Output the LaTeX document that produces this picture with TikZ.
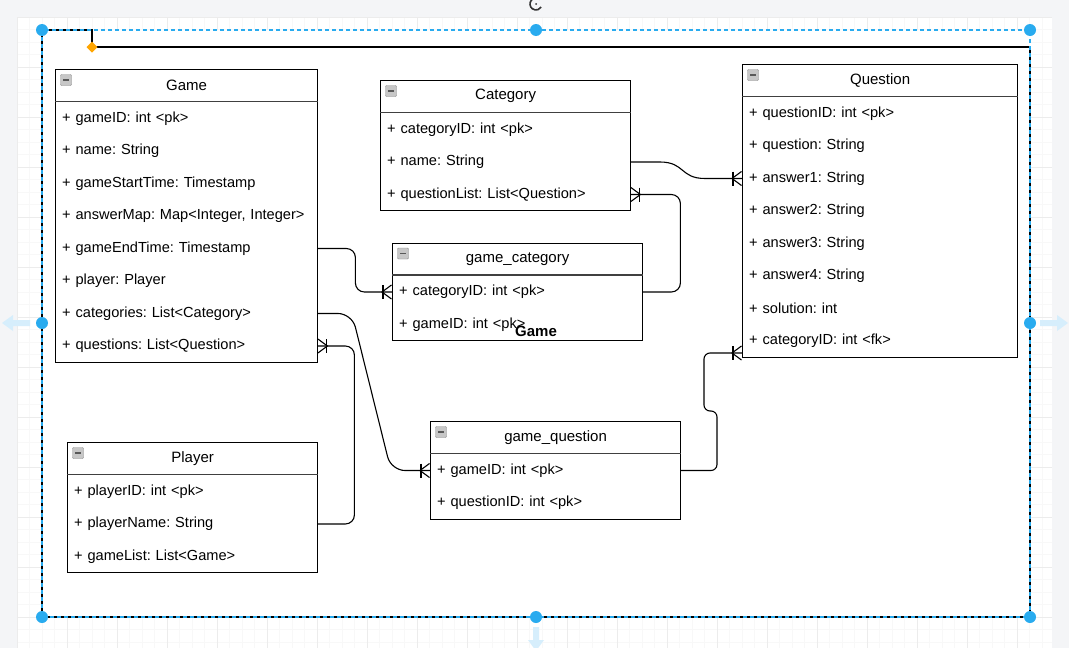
\documentclass[tikz,border=0pt]{standalone}
\usepackage{fontspec}
\setmainfont{Liberation Sans}
\usetikzlibrary{calc}
\definecolor{handlec}{RGB}{41,171,239}
\definecolor{outbg}{RGB}{244,245,247}
\definecolor{gridmin}{RGB}{248,248,248}
\definecolor{gridmaj}{RGB}{236,236,236}
\definecolor{arrowc}{RGB}{214,238,252}
\definecolor{diamondc}{RGB}{255,165,0}
\newcommand\crowend[2]{%
  \draw[conn] ($(#1)+({-9*(#2)},-7)$) -- ($(#1)+({-9*(#2)},7)$);
  \draw[conn] ($(#1)+({-0.5*(#2)},-7)$) -- ($(#1)+({-10*(#2)},0)$) -- ($(#1)+({-0.5*(#2)},7)$);}
\frenchspacing
\begin{document}
\begin{tikzpicture}[x=1pt,y=-1pt,
  tbl/.style={draw=black, line width=1.2pt, fill=white, inner sep=0pt, anchor=north west},
  hdr/.style={draw=black!75, line width=1.6pt},
  ttl/.style={font=\fontsize{15}{18}\selectfont, inner sep=0pt},
  row/.style={text width=#1, align=left, inner xsep=7pt, inner ysep=0pt, anchor=west,
              font=\frenchspacing\fontsize{14.6}{18}\selectfont, minimum height=30pt},
  icon/.style={draw=black!45, fill=black!22, minimum size=11pt, inner sep=0pt, rounded corners=1pt,
     path picture={\draw[black!65, line width=1.4pt] ($(path picture bounding box.west)+(2.5,0)$) -- ($(path picture bounding box.east)+(-2.5,0)$);}},
  conn/.style={draw=black, line width=1.1pt},
  handle/.style={fill=handlec}
]
\useasboundingbox (0,0) rectangle (1069,648);
\fill[outbg] (0,0) rectangle (1069,648);
\fill[white] (17,17) rectangle (1052,648);
% grid
\foreach \x in {29.5,42,...,1052} \draw[gridmin, line width=0.6pt] (\x,17) -- (\x,648);
\foreach \y in {29.5,42,...,648} \draw[gridmin, line width=0.6pt] (17,\y) -- (1052,\y);
\foreach \x in {17,67,...,1052} \draw[gridmaj, line width=0.7pt] (\x,17) -- (\x,648);
\foreach \y in {17,67,...,648} \draw[gridmaj, line width=0.7pt] (17,\y) -- (1052,\y);
% container
\fill[white] (42,30) rectangle (1030,617);
\draw[black, line width=1.3pt] (42,617) -- (42,30) -- (92,30) -- (92,47) -- (1030,47) -- (1030,617) -- cycle;
\draw[handlec, line width=1.1pt, dash pattern=on 4pt off 3pt] (42,30) rectangle (1030,617);

% ---------- Game ----------
\node[tbl, minimum width=262pt, minimum height=292.5pt] (game) at (55,69) {};
\draw[hdr] ($(game.north west)+(0,32.5)$) -- ($(game.north east)+(0,32.5)$);
\node[ttl] (gamet) at ($(game.north)+(0,16.25)$) {Game};
\node[icon] (gamei) at ($(game.north west)+(11,11)$) {};
\node[row=248pt] (g1) at (55,118.5) {+ gameID: int <pk>};
\node[row=248pt] (g2) at (55,151) {+ name: String};
\node[row=248pt] (g3) at (55,183.5) {+ gameStartTime: Timestamp};
\node[row=248pt] (g4) at (55,216) {+ answerMap: Map<Integer, Integer>};
\node[row=248pt] (g5) at (55,248.5) {+ gameEndTime: Timestamp};
\node[row=248pt] (g6) at (55,281) {+ player: Player};
\node[row=248pt] (g7) at (55,313.5) {+ categories: List<Category>};
\node[row=248pt] (g8) at (55,346) {+ questions: List<Question>};

% ---------- Category ----------
\node[tbl, minimum width=250pt, minimum height=130pt] (cat) at (380,80) {};
\draw[hdr] ($(cat.north west)+(0,32.5)$) -- ($(cat.north east)+(0,32.5)$);
\node[ttl] (catt) at ($(cat.north)+(0,16.25)$) {Category};
\node[icon] (cati) at ($(cat.north west)+(11,11)$) {};
\node[row=236pt] (c1) at (380,129.5) {+ categoryID: int <pk>};
\node[row=236pt] (c2) at (380,162) {+ name: String};
\node[row=236pt] (c3) at (380,194.5) {+ questionList: List<Question>};

% ---------- Question ----------
\node[tbl, minimum width=275pt, minimum height=292.5pt] (quest) at (742,64) {};
\draw[hdr] ($(quest.north west)+(0,32.5)$) -- ($(quest.north east)+(0,32.5)$);
\node[ttl] (questt) at ($(quest.north)+(0,16.25)$) {Question};
\node[icon] (questi) at ($(quest.north west)+(11,11)$) {};
\node[row=261pt] (q1) at (742,113.5) {+ questionID: int <pk>};
\node[row=261pt] (q2) at (742,146) {+ question: String};
\node[row=261pt] (q3) at (742,178.5) {+ answer1: String};
\node[row=261pt] (q4) at (742,211) {+ answer2: String};
\node[row=261pt] (q5) at (742,243.5) {+ answer3: String};
\node[row=261pt] (q6) at (742,276) {+ answer4: String};
\node[row=261pt] (q7) at (742,308.5) {+ solution: int};
\node[row=261pt] (q8) at (742,341) {+ categoryID: int <fk>};

% ---------- game_category ----------
\node[tbl, minimum width=250pt, minimum height=97.5pt] (gcat) at (392,242.5) {};
\draw[hdr] ($(gcat.north west)+(0,32.5)$) -- ($(gcat.north east)+(0,32.5)$);
\node[ttl] (gcatt) at ($(gcat.north)+(0,16.25)$) {game\_category};
\node[icon] (gcati) at ($(gcat.north west)+(11,11)$) {};
\node[row=236pt] (gc1) at (392,292) {+ categoryID: int <pk>};
\node[row=236pt] (gc2) at (392,324.5) {+ gameID: int <pk>};

% ---------- game_question ----------
\node[tbl, minimum width=250pt, minimum height=97.5pt] (gq) at (430,421) {};
\draw[hdr] ($(gq.north west)+(0,32.5)$) -- ($(gq.north east)+(0,32.5)$);
\node[ttl] (gqt) at ($(gq.north)+(0,16.25)$) {game\_question};
\node[icon] (gqi) at ($(gq.north west)+(11,11)$) {};
\node[row=236pt] (gq1) at (430,470.5) {+ gameID: int <pk>};
\node[row=236pt] (gq2) at (430,503) {+ questionID: int <pk>};

% ---------- Player ----------
\node[tbl, minimum width=250pt, minimum height=130pt] (pl) at (67,442) {};
\draw[hdr] ($(pl.north west)+(0,32.5)$) -- ($(pl.north east)+(0,32.5)$);
\node[ttl] (plt) at ($(pl.north)+(0,16.25)$) {Player};
\node[icon] (pli) at ($(pl.north west)+(11,11)$) {};
\node[row=236pt] (p1) at (67,491.5) {+ playerID: int <pk>};
\node[row=236pt] (p2) at (67,524) {+ playerName: String};
\node[row=236pt] (p3) at (67,556.5) {+ gameList: List<Game>};

% ---------- connectors ----------
\draw[conn, rounded corners=9pt] (g5.east) -- ++(38,0) |- (gc1.west);
\crowend{gc1.west}{1}
\coordinate (c2a) at (352,313.5);
\coordinate (c2b) at (391,470.5);
\draw[conn, rounded corners=14pt] (g7.east) -- (c2a) -- (c2b) -- (gq1.west);
\crowend{gq1.west}{1}
\draw[conn, rounded corners=9pt] (p2.east) -- ++(37,0) |- (g8.east);
\crowend{g8.east}{-1}
\draw[conn, rounded corners=9pt] (gc1.east) -- ++(38,0) |- (c3.east);
\crowend{c3.east}{-1}
\draw[conn] (c2.east) -- (660,162) .. controls (685,162) and (680,178.5) .. (705,178.5) -- (q3.west);
\crowend{q3.west}{1}
\coordinate (qend) at (742,353);
\draw[conn, rounded corners=6pt] (gq1.east) -- (717,470.5) -- (717,411) -- (704,411) -- (704,353) -- (qend);
\crowend{qend}{1}

% container label (drawn on top)
\node[font=\bfseries\fontsize{15}{18}\selectfont, inner sep=0pt] (contlabel) at (536,331) {Game};

% ---------- selection handles ----------
\foreach \p in {(42,30),(536,30),(1030,30),(42,323),(1030,323),(42,617),(536,617),(1030,617)}
  \fill[handle] \p circle (6pt);
\fill[diamondc] (92,41.5) -- (97.5,47) -- (92,52.5) -- (86.5,47) -- cycle;
% rotation handle
\draw[black!80, line width=1.6pt] ([shift={(50:6pt)}]536,4) arc[start angle=50, end angle=330, radius=6pt];
\fill[black!80] (536,4) circle (1pt);
% direction arrows
\fill[arrowc] (30,320) -- (13,320) -- (13,315) -- (2,323) -- (13,331) -- (13,326) -- (30,326) -- cycle;
\fill[arrowc] (1040,320) -- (1057,320) -- (1057,315) -- (1068,323) -- (1057,331) -- (1057,326) -- (1040,326) -- cycle;
\fill[arrowc] (533,627) -- (533,640) -- (528,640) -- (536,651) -- (544,640) -- (539,640) -- (539,627) -- cycle;
\end{tikzpicture}
\end{document}
